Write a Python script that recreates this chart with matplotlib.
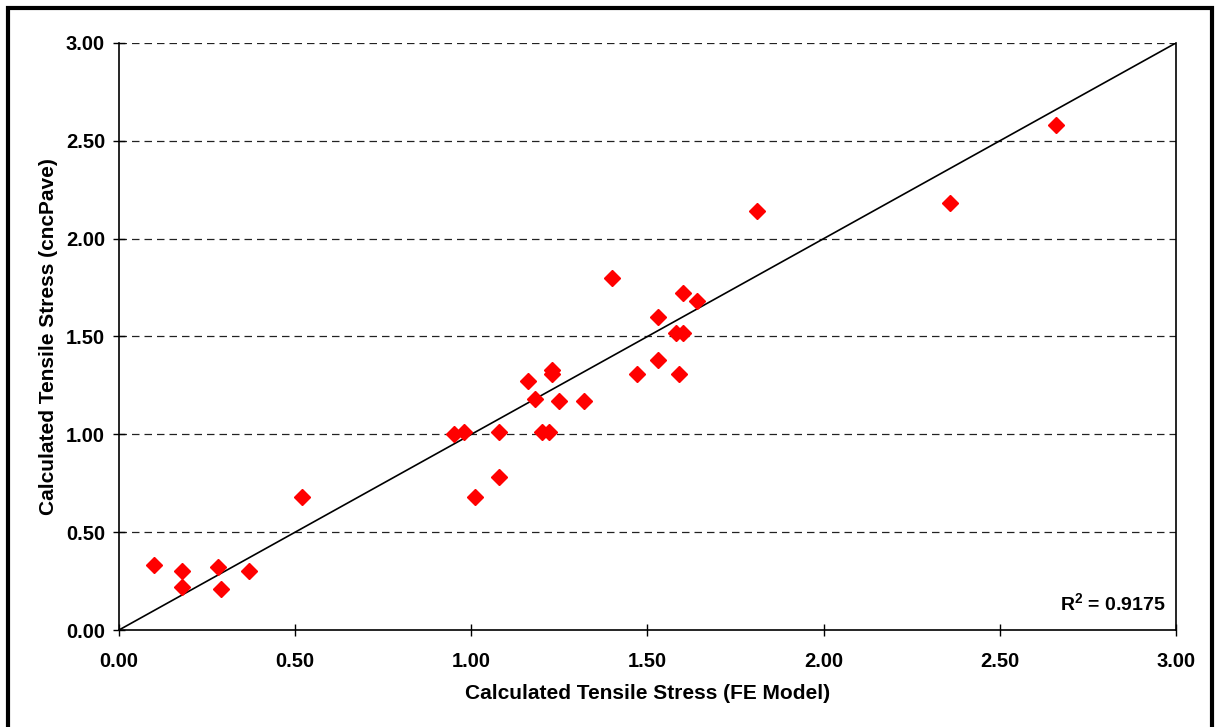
import matplotlib.pyplot as plt
from matplotlib.patches import Rectangle

plt.rcParams['font.family'] = ['Liberation Sans', 'DejaVu Sans']
plt.rcParams['mathtext.fontset'] = 'custom'
plt.rcParams['mathtext.bf'] = 'Liberation Sans:bold'
plt.rcParams['mathtext.rm'] = 'Liberation Sans'

# FE model vs cncPave calculated tensile stress
fe_model = [0.10, 0.18, 0.18, 0.28, 0.29, 0.37, 0.52, 0.95, 0.98, 1.01,
            1.08, 1.08, 1.16, 1.18, 1.20, 1.22, 1.23, 1.23, 1.25, 1.32,
            1.40, 1.47, 1.53, 1.53, 1.58, 1.60, 1.59, 1.60, 1.64, 1.81,
            2.36, 2.66]
cncpave = [0.33, 0.30, 0.22, 0.32, 0.21, 0.30, 0.68, 1.00, 1.01, 0.68,
           0.78, 1.01, 1.27, 1.18, 1.01, 1.01, 1.33, 1.31, 1.17, 1.17,
           1.80, 1.31, 1.60, 1.38, 1.52, 1.52, 1.31, 1.72, 1.68, 2.14,
           2.18, 2.58]
line_of_equality = [0.0, 3.0]
ticks = [0.0, 0.5, 1.0, 1.5, 2.0, 2.5, 3.0]
r_squared = 0.9175

fig = plt.figure(figsize=(12.19, 7.27), dpi=100)
ax = fig.add_axes([0.0976, 0.1334, 0.8671, 0.8075])

for t in ticks[1:]:
    ax.axhline(t, color='#222222', lw=0.9, ls=(0, (6, 4)), zorder=1)

ax.plot(line_of_equality, line_of_equality, color='black', lw=1.2, zorder=2)
ax.plot(fe_model, cncpave, ls='none', marker='D', ms=8.5, color='#ff0000',
        mec='#ff0000', zorder=3)

ax.set_xlim(0, 3)
ax.set_ylim(0, 3)
ax.set_xticks(ticks)
ax.set_yticks(ticks)
ax.set_xticklabels([f'{t:.2f}' for t in ticks], fontsize=14.5, fontweight='bold')
ax.set_yticklabels([f'{t:.2f}' for t in ticks], fontsize=14.5, fontweight='bold')
ax.tick_params(direction='inout', length=8, width=1)
ax.tick_params(axis='x', pad=12)
ax.tick_params(axis='y', pad=6)
ax.spines['top'].set_visible(False)
for s in ('left', 'bottom', 'right'):
    ax.spines[s].set_linewidth(1.2)

ax.set_xlabel('Calculated Tensile Stress (FE Model)', fontsize=15,
              fontweight='bold', labelpad=9)
ax.set_ylabel('Calculated Tensile Stress (cncPave)', fontsize=15,
              fontweight='bold', labelpad=6)

ax.text(0.99, 0.045, r'$\mathbf{R^2}$' + f' = {r_squared:.4f}', transform=ax.transAxes,
        ha='right', va='center', fontsize=14, fontweight='bold')

fig.add_artist(Rectangle((0.0065, -0.01), 0.988, 0.9995, transform=fig.transFigure,
                         fill=False, ec='black', lw=3))

fig.savefig('out.png', dpi=100)
